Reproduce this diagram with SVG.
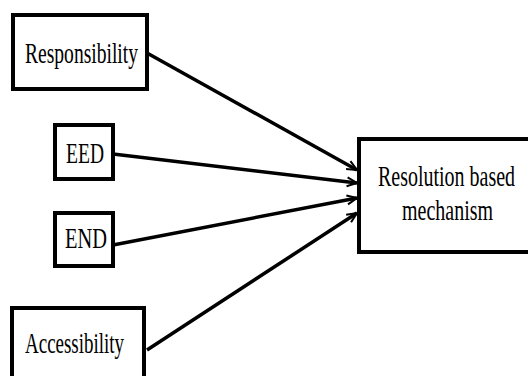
<svg xmlns="http://www.w3.org/2000/svg" width="528" height="376" viewBox="0 0 528 376">
<style>
.box{fill:#fff;stroke:#000;stroke-width:4}
.lbl{font-family:"Liberation Serif","Times New Roman",serif;font-size:30px;fill:#000;text-anchor:middle}
.edge{stroke:#000;stroke-width:3.5;fill:none;marker-end:url(#arr)}
</style>
<defs>
<marker id="arr" markerUnits="userSpaceOnUse" markerWidth="14" markerHeight="12" refX="11" refY="5" orient="auto" viewBox="0 0 14 10">
<path d="M1,0.5 L11,5 L1,9.5" fill="none" stroke="#000" stroke-width="2"/>
</marker>
</defs>
<rect width="528" height="376" fill="#fff"/>
<g id="connectors">
<line class="edge" x1="147" y1="53" x2="357" y2="170"/>
<line class="edge" x1="113" y1="154" x2="357" y2="183"/>
<line class="edge" x1="113" y1="245" x2="357" y2="198"/>
<line class="edge" x1="147" y1="350" x2="357" y2="213"/>
</g>
<g id="responsibility">
<rect class="box" x="13" y="15" width="134" height="74"/>
<text class="lbl" transform="translate(81.5,63) scale(0.666,1)" textLength="169.7" lengthAdjust="spacingAndGlyphs">Responsibility</text>
</g>
<g id="eed">
<rect class="box" x="55" y="125" width="58" height="54"/>
<text class="lbl" transform="translate(85,163) scale(0.666,1)" textLength="57" lengthAdjust="spacingAndGlyphs">EED</text>
</g>
<g id="end">
<rect class="box" x="55" y="213" width="58" height="53"/>
<text class="lbl" transform="translate(86,248) scale(0.666,1)" textLength="63" lengthAdjust="spacingAndGlyphs">END</text>
</g>
<g id="accessibility">
<path class="box" d="M12,376 V308 H144 V376"/>
<text class="lbl" transform="translate(74.5,353) scale(0.666,1)" textLength="148.6" lengthAdjust="spacingAndGlyphs">Accessibility</text>
</g>
<g id="resolution">
<path class="box" d="M528,139 H359 V252 H528"/>
<text class="lbl" transform="translate(446.5,186) scale(0.666,1)" textLength="205.7" lengthAdjust="spacingAndGlyphs">Resolution based</text>
<text class="lbl" transform="translate(447.5,220) scale(0.666,1)" textLength="136.6" lengthAdjust="spacingAndGlyphs">mechanism</text>
</g>
</svg>
